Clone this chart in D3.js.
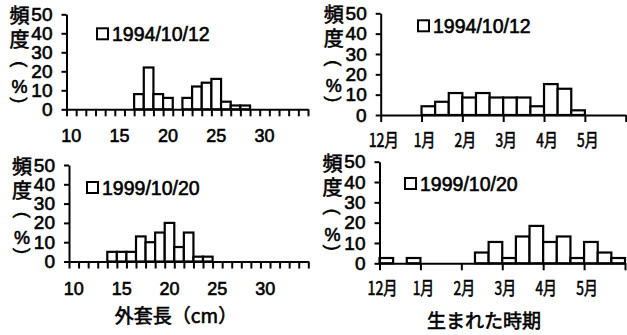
<!DOCTYPE html>
<html>
<head>
<meta charset="utf-8">
<script src="https://cdn.jsdelivr.net/npm/d3@7"></script>
<style>
    body { margin: 0; background: #fff; }
    text { fill: #000; stroke: #000; stroke-width: 0.6px; }
    .num { font-family: "Liberation Sans", Arial, sans-serif; }
    .jp { font-family: "Noto Sans CJK JP", sans-serif; }
    .axis path, .axis line { stroke: #000; stroke-width: 2; }
</style>
</head>
<body>
<svg width="627" height="335"></svg>
<script>
// mantle length classes (cm)
var lengthCats = [10, 11, 12, 13, 14, 15, 16, 17, 18, 19, 20, 21, 22, 23, 24, 25, 26, 27, 28, 29, 30, 31, 32, 33, 34];
var lengthLabels = [10, 15, 20, 25, 30];
// birth period: 3 bins (early / mid / late) per month, Dec to May
var birthCats = ["12a", "12b", "12c", "1a", "1b", "1c", "2a", "2b", "2c", "3a", "3b", "3c", "4a", "4b", "4c", "5a", "5b", "5c"];
var monthLabels = ["12月", "1月", "2月", "3月", "4月", "5月"];
var yTicks = [0, 10, 20, 30, 40, 50];

// frequency (%)
var length1994 = [0, 0, 0, 0, 0, 0, 0, 8, 22, 8, 6, 0, 6, 12, 14, 16, 4, 2, 2, 0, 0, 0, 0, 0, 0];
var length1999 = [0, 0, 0, 0, 5, 5, 5, 13, 10, 15, 20, 7.5, 15, 2.5, 2.5, 0, 0, 0, 0, 0, 0, 0, 0, 0, 0];
var birth1994 = [0, 0, 0, 4.3, 6.5, 10.8, 8.6, 10.8, 8.6, 8.6, 8.6, 4.3, 15.2, 12.9, 2.3, 0, 0, 0];
var birth1999 = [2.6, 0, 2.6, 0, 0, 0, 0, 5.3, 10.5, 2.6, 13.2, 18.4, 10.5, 13.2, 2.6, 10.5, 5.3, 2.6];

var svg = d3.select("svg");

var panels = [
    {cats: lengthCats, values: length1994, legend: "1994/10/12", kind: "length",
        x0: 66.5, x1: 308, y0: 109.3, y50: 14.3, lgx: 30.5, lgy: 14},
    {cats: birthCats, values: birth1994, legend: "1994/10/12", kind: "birth",
        x0: 380.7, x1: 625.7, y0: 115, y50: 13.3, lgx: 37.3, lgy: 7},
    {cats: lengthCats, values: length1999, legend: "1999/10/20", kind: "length",
        x0: 69, x1: 308.3, y0: 261.5, y50: 165, lgx: 18, lgy: 17,
        title: "外套長（cm）", tx: 176, ty: 323},
    {cats: birthCats, values: birth1999, legend: "1999/10/20", kind: "birth",
        x0: 379.5, x1: 625, y0: 263.3, y50: 161.7, lgx: 25.5, lgy: 16.3,
        title: "生まれた時期", tx: 484, ty: 328}
];

function drawPanel(p) {
    var g = svg.append("g");
    var n = p.cats.length;

    var scaleX = d3.scaleBand().domain(p.cats).range([p.x0, p.x1]).padding(0),
        scaleIdx = d3.scaleLinear().domain([0, n]).range([p.x0, p.x1]),
        scaleY = d3.scaleLinear().domain([0, 50]).range([p.y0, p.y50]);

    var bars = p.cats.map(function (c, i) { return {cat: c, value: p.values[i]}; })
        .filter(function (d) { return d.value > 0; });

    g.selectAll("rect.bar")
        .data(bars)
        .enter().append("rect")
        .attr("class", "bar")
        .attr("x", function (d) { return scaleX(d.cat); })
        .attr("width", scaleX.bandwidth())
        .attr("y", function (d) { return scaleY(d.value); })
        .attr("height", function (d) { return scaleY(0) - scaleY(d.value); })
        .attr("fill", "#fff")
        .attr("stroke", "#000")
        .attr("stroke-width", 2.2);

    // x axis: ticks on class boundaries (every class, or every month)
    var tickIdx = p.kind === "length" ? d3.range(n + 1) : d3.range(0, n + 1, 3);
    g.append("g")
        .attr("class", "axis")
        .attr("transform", "translate(0," + p.y0 + ")")
        .call(d3.axisBottom(scaleIdx).tickValues(tickIdx).tickSize(7).tickSizeOuter(0).tickFormat(""));

    g.append("g")
        .attr("class", "axis")
        .attr("transform", "translate(" + p.x0 + ",0)")
        .call(d3.axisLeft(scaleY).tickValues(yTicks).tickSize(5).tickSizeOuter(0).tickPadding(9))
        .selectAll("text")
        .attr("class", "num")
        .attr("fill", "#000")
        .style("font-size", "19px");

    // x tick labels
    if (p.kind === "length") {
        g.selectAll("text.xl")
            .data(lengthLabels)
            .enter().append("text")
            .attr("class", "xl num")
            .attr("x", function (d) { return scaleX(d) + scaleX.bandwidth() / 2; })
            .attr("y", p.y0 + 33)
            .attr("text-anchor", "middle")
            .style("font-size", "18px")
            .text(function (d) { return d; });
    } else {
        g.selectAll("text.xl")
            .data(monthLabels)
            .enter().append("text")
            .attr("class", "xl jp")
            .attr("x", function (d, i) { return scaleIdx(i * 3) + 3; })
            .attr("y", p.y0 + 32)
            .attr("text-anchor", "middle")
            .attr("textLength", function (d) { return (d.length - 1) * 8.5 + 13; })
            .attr("lengthAdjust", "spacingAndGlyphs")
            .style("font-size", "18px")
            .text(function (d) { return d; });
    }

    // vertical y label 頻度（%）
    var lx = p.x0 - 47;
    g.append("text").attr("class", "jp").attr("x", lx).attr("y", p.y50 + 9)
        .attr("text-anchor", "middle").style("font-size", "20px").text("頻");
    g.append("text").attr("class", "jp").attr("x", lx).attr("y", p.y50 + 33)
        .attr("text-anchor", "middle").style("font-size", "20px").text("度");
    g.append("text").attr("class", "num")
        .attr("transform", "translate(" + lx + "," + (p.y50 + 50) + ") rotate(90)")
        .attr("text-anchor", "middle").attr("dy", "0.3em").style("font-size", "18px").text("(");
    g.append("text").attr("class", "num").attr("x", lx).attr("y", p.y50 + 79)
        .attr("text-anchor", "middle").style("font-size", "18px").text("%");
    g.append("text").attr("class", "num")
        .attr("transform", "translate(" + lx + "," + (p.y50 + 86) + ") rotate(90)")
        .attr("text-anchor", "middle").attr("dy", "0.3em").style("font-size", "18px").text(")");

    // legend
    var lgX = p.x0 + p.lgx, lgY = p.y50 + p.lgy;
    g.append("rect")
        .attr("x", lgX).attr("y", lgY).attr("width", 11).attr("height", 11)
        .attr("fill", "#fff").attr("stroke", "#000").attr("stroke-width", 2);
    g.append("text").attr("class", "num")
        .attr("x", lgX + 15).attr("y", lgY + 12.5)
        .style("font-size", "19.5px")
        .text(p.legend);

    if (p.title) {
        g.append("text").attr("class", "jp")
            .attr("x", p.tx).attr("y", p.ty)
            .attr("text-anchor", "middle")
            .style("font-size", "19px")
            .text(p.title);
    }
}

panels.forEach(drawPanel);
</script>
</body>
</html>
